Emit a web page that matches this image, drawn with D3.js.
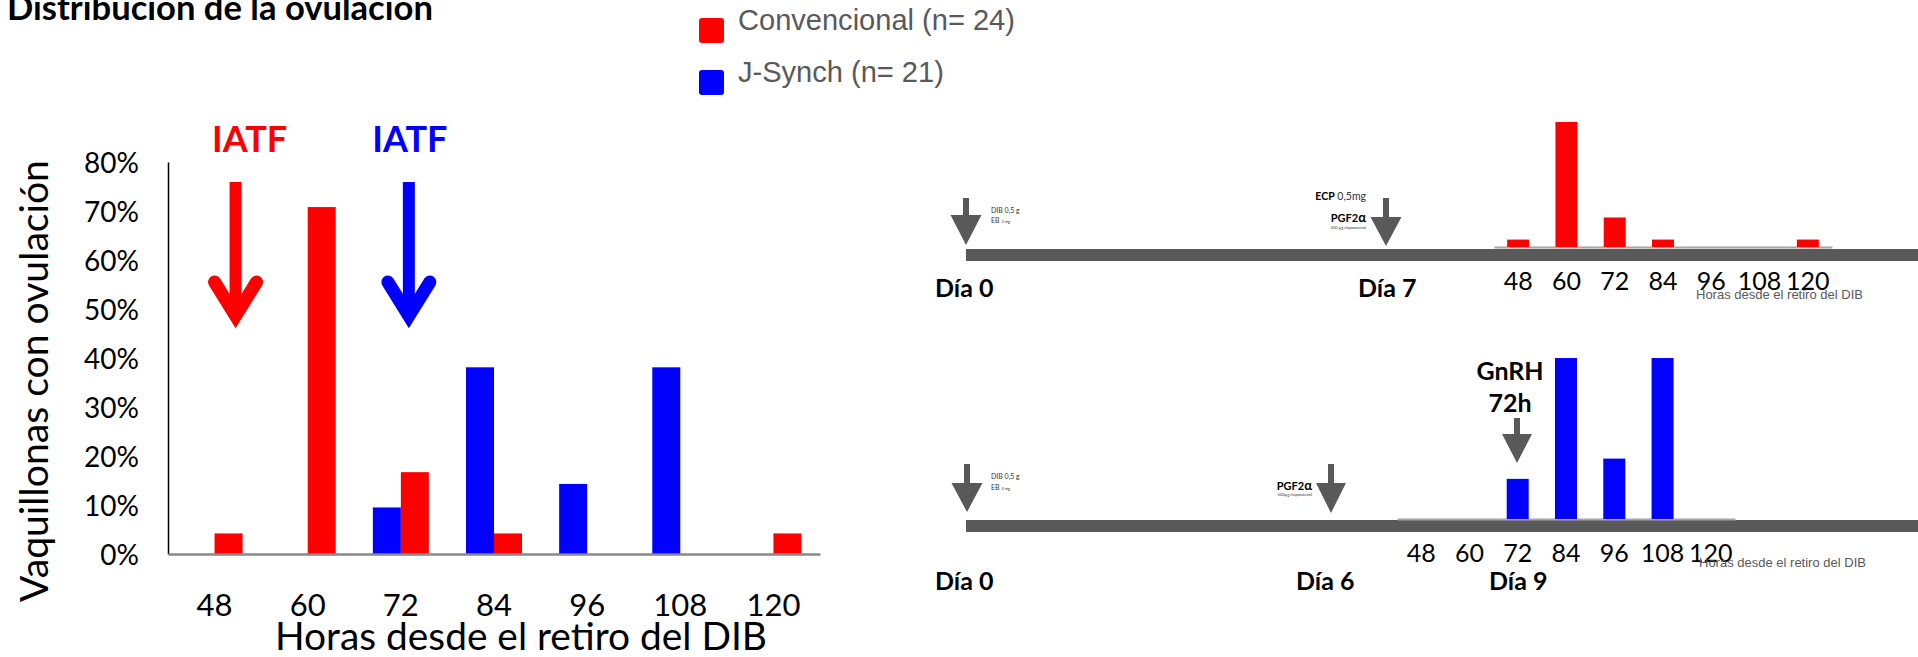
<!DOCTYPE html>
<html>
<head>
<meta charset="utf-8">
<script src="https://cdn.jsdelivr.net/npm/d3@7"></script>
<style>
  html, body { margin: 0; padding: 0; background: #fff; }
  svg { display: block; }
</style>
</head>
<body>
<svg id="chart" width="1918" height="657"></svg>
<script>
// Ovulation timing (hours after device removal) for two synchronisation protocols
const hours = [48, 60, 72, 84, 96, 108, 120];
const convencional = [4.2, 70.8, 16.7, 4.2, 0, 0, 4.2];   // % of heifers, n = 24
const jsynch = [0, 0, 9.5, 38.1, 14.3, 38.1, 0];           // % of heifers, n = 21
const pctTicks = [0, 10, 20, 30, 40, 50, 60, 70, 80];
const seriesNames = ["Convencional (n= 24)", "J-Synch (n= 21)"];
const seriesColors = ["#FF0000", "#0000FF"];

const SANS = "Lato, 'Open Sans', sans-serif";
const ARIAL = "'Liberation Sans', Arial, sans-serif";
const DARK = "#595959";

const svg = d3.select("#chart");

// scale a text's font size so that it spans the given width
function fit(sel, w) {
  const len = sel.node().getComputedTextLength();
  const fs = parseFloat(sel.attr("font-size"));
  if (len > 0) sel.attr("font-size", fs * w / len);
  return sel;
}

// ---------- title and legend ----------
fit(svg.append("text").attr("x", 7).attr("y", 20)
  .attr("font-family", SANS).attr("font-weight", 700).attr("font-size", 28)
  .text("Distribución de la ovulación"), 426);

const legend = svg.append("g");
let legendFs = 26;
seriesNames.forEach((name, i) => {
  const y0 = 18 + i * 52;
  legend.append("rect").attr("x", 699).attr("y", y0).attr("width", 25).attr("height", 25)
    .attr("rx", 3).attr("fill", seriesColors[i]);
  const t = legend.append("text").attr("x", 738).attr("y", y0 + 12)
    .attr("font-family", ARIAL).attr("font-size", legendFs).attr("fill", DARK).text(name);
  if (i === 0) { fit(t, 277); legendFs = +t.attr("font-size"); }
});

// ---------- main grouped bar chart ----------
const x = d3.scaleBand().domain(hours).range([168, 820]);
const barW = 28;
const xSub = d3.scaleBand().domain(["jsynch", "conv"])
  .range([x.bandwidth() / 2 - barW, x.bandwidth() / 2 + barW]);
const y = d3.scaleLinear().domain([0, 80]).range([554, 162]);

const rows = hours.map((h, i) => ({ h, conv: convencional[i], jsynch: jsynch[i] }));
const mainG = svg.append("g");

[["jsynch", "#0000FF"], ["conv", "#FF0000"]].forEach(([key, col]) => {
  mainG.selectAll("rect." + key).data(rows.filter(d => d[key] > 0)).join("rect")
    .attr("class", key)
    .attr("x", d => x(d.h) + xSub(key))
    .attr("width", xSub.bandwidth())
    .attr("y", d => y(d[key]))
    .attr("height", d => y(0) - y(d[key]))
    .attr("fill", col);
});

const yAxis = mainG.append("g").attr("transform", "translate(168,0)")
  .call(d3.axisLeft(y).tickValues(pctTicks).tickSize(0).tickPadding(29).tickFormat(d => d + "%"));
yAxis.select(".domain").attr("stroke", "#000").attr("stroke-width", 1.5);
yAxis.selectAll("text").attr("font-family", SANS).attr("font-size", 28).attr("fill", "#000")
  .attr("dy", "0.36em");

const xAxis = mainG.append("g").attr("transform", "translate(0,554)")
  .call(d3.axisBottom(x).tickSize(0).tickSizeOuter(0));
xAxis.select(".domain").attr("stroke", "#888").attr("stroke-width", 2.5);
xAxis.selectAll("text").attr("font-family", SANS).attr("font-size", 31).attr("fill", "#000")
  .attr("y", 62).attr("dy", 0);

fit(svg.append("text").attr("x", (275 + 767) / 2).attr("y", 650).attr("text-anchor", "middle")
  .attr("font-family", SANS).attr("font-size", 34).text("Horas desde el retiro del DIB"), 492);

fit(svg.append("text").attr("transform", "translate(48,381) rotate(-90)")
  .attr("text-anchor", "middle").attr("font-family", SANS).attr("font-size", 38)
  .text("Vaquillonas con ovulación"), 442);

// IATF markers: insemination times for each protocol
const iatf = [
  { h: 48, col: "#FF0000", dx: 21, tdx: 35 },
  { h: 72, col: "#0000FF", dx: 8, tdx: 9 }
];
iatf.forEach(m => {
  const c = x(m.h) + x.bandwidth() / 2;
  const cx = c + m.dx;
  const g = svg.append("g").attr("stroke", m.col).attr("fill", "none");
  g.append("line").attr("x1", cx).attr("x2", cx).attr("y1", 182).attr("y2", 318)
    .attr("stroke-width", 12);
  g.append("path").attr("d", `M${cx - 21},282 L${cx},316 L${cx + 21},282`)
    .attr("stroke-width", 13).attr("stroke-linecap", "round").attr("stroke-linejoin", "miter")
    .attr("stroke-miterlimit", 10);
  svg.append("text").attr("x", c + m.tdx).attr("y", 152).attr("text-anchor", "middle")
    .attr("font-family", SANS).attr("font-weight", 700).attr("font-size", 36)
    .attr("fill", m.col).text("IATF");
});

// ---------- protocol timelines ----------
function arrow(g, cx, yTop, yHead, yTip, shaftW, headW) {
  g.append("path").attr("fill", DARK).attr("d",
    `M${cx - shaftW / 2},${yTop} L${cx + shaftW / 2},${yTop} L${cx + shaftW / 2},${yHead}
     L${cx + headW / 2},${yHead} L${cx},${yTip} L${cx - headW / 2},${yHead}
     L${cx - shaftW / 2},${yHead} Z`);
}

function smallNote(g, xPos, yPos, parts, anchor) {
  const t = g.append("text").attr("x", xPos).attr("y", yPos).attr("text-anchor", anchor || "start")
    .attr("font-family", SANS).attr("fill", "#333");
  parts.forEach(p => t.append("tspan").attr("font-size", p.s).attr("font-weight", p.b ? 700 : 400)
    .attr("fill", p.c || null).text(p.t));
  return t;
}

function dayLabel(g, xPos, yPos, txt) {
  g.append("text").attr("x", xPos).attr("y", yPos).attr("font-family", SANS)
    .attr("font-weight", 700).attr("font-size", 25).attr("fill", "#000").text(txt);
}

function hourChart(g, values, color, x0, x1, baseY, yMax, topY, labelBase, titleX, titleBase) {
  const xs = d3.scaleBand().domain(hours).range([x0, x1]);
  const ys = d3.scaleLinear().domain([0, yMax]).range([baseY, topY]);
  const bw = 22;
  const ax = g.append("g").attr("transform", `translate(0,${baseY})`)
    .call(d3.axisBottom(xs).tickSize(0).tickSizeOuter(0));
  ax.select(".domain").attr("stroke", "#A6A6A6").attr("stroke-width", 2);
  ax.selectAll("text").attr("font-family", SANS).attr("font-size", 25).attr("fill", "#000")
    .attr("y", labelBase - baseY).attr("dy", 0);
  g.selectAll("rect.b").data(hours.map((h, i) => ({ h, v: values[i] })).filter(d => d.v > 0))
    .join("rect").attr("class", "b")
    .attr("x", d => xs(d.h) + (xs.bandwidth() - bw) / 2).attr("width", bw)
    .attr("y", d => ys(d.v)).attr("height", d => baseY - ys(d.v)).attr("fill", color);
  g.append("text").attr("x", titleX).attr("y", titleBase).attr("font-family", ARIAL)
    .attr("font-size", 13).attr("fill", DARK).text("Horas desde el retiro del DIB");
}

// Convencional protocol
const convG = svg.append("g");
convG.append("rect").attr("x", 966).attr("y", 249).attr("width", 1918 - 966).attr("height", 12).attr("fill", DARK);
hourChart(convG, convencional, "#FF0000", 1494, 1832, 247, 80, 247 - 141.3, 290, 1696, 299);
arrow(convG, 966, 198, 215, 245, 6, 31);
arrow(convG, 1386, 198, 217, 246, 6, 31);
smallNote(convG, 991, 213, [{ t: "DIB 0,5 g", s: 7 }]);
smallNote(convG, 991, 223, [{ t: "EB ", s: 7 }, { t: "2 mg", s: 4 }]);
smallNote(convG, 1366, 200, [{ t: "ECP", s: 10.5, b: true, c: "#000" }, { t: " 0,5mg", s: 10.5 }], "end");
smallNote(convG, 1366, 222, [{ t: "PGF2", s: 11, b: true, c: "#000" }, { t: "α", s: 13, b: true, c: "#000" }], "end");
smallNote(convG, 1366, 229, [{ t: "500 µg cloprostenol", s: 4 }], "end");
dayLabel(convG, 935, 297, "Día 0");
dayLabel(convG, 1358, 297, "Día 7");

// J-Synch protocol
const jsG = svg.append("g");
jsG.append("rect").attr("x", 966).attr("y", 520).attr("width", 1918 - 966).attr("height", 12).attr("fill", DARK);
hourChart(jsG, jsynch, "#0000FF", 1397, 1735, 519, 40, 519 - 169, 562, 1699, 567);
arrow(jsG, 967, 464, 483, 512, 6, 31);
arrow(jsG, 1331, 464, 483, 513, 6, 30);
arrow(jsG, 1517, 418, 434, 463, 6, 30);
smallNote(jsG, 991, 479, [{ t: "DIB 0,5 g", s: 7 }]);
smallNote(jsG, 991, 490, [{ t: "EB ", s: 7 }, { t: "2 mg", s: 4 }]);
smallNote(jsG, 1312, 490, [{ t: "PGF2", s: 11, b: true, c: "#000" }, { t: "α", s: 13, b: true, c: "#000" }], "end");
smallNote(jsG, 1312, 496, [{ t: "500µg cloprostenol", s: 4 }], "end");
jsG.append("text").attr("x", 1510).attr("y", 380).attr("text-anchor", "middle")
  .attr("font-family", SANS).attr("font-weight", 700).attr("font-size", 25).text("GnRH");
jsG.append("text").attr("x", 1510).attr("y", 412).attr("text-anchor", "middle")
  .attr("font-family", SANS).attr("font-weight", 700).attr("font-size", 25).text("72h");
dayLabel(jsG, 935, 590, "Día 0");
dayLabel(jsG, 1296, 590, "Día 6");
dayLabel(jsG, 1489, 590, "Día 9");
</script>
</body>
</html>
